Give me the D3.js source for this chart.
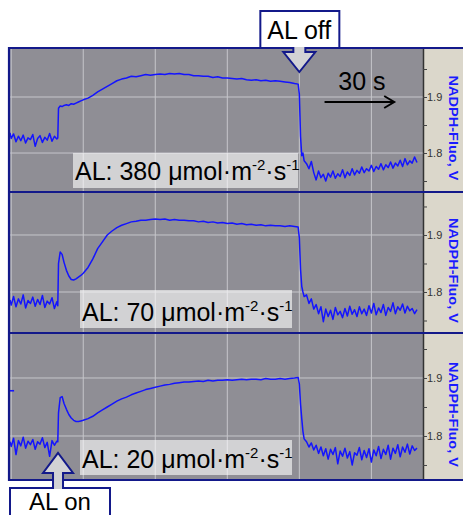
<!DOCTYPE html>
<html><head><meta charset="utf-8">
<script src="https://cdn.jsdelivr.net/npm/d3@7"></script>
<style>body{margin:0;background:#fff}svg{display:block}</style>
</head><body><svg id="c" width="463" height="515"></svg>
<script>
// ---- data ----
const times = [-0.5,0,1,2,3,4,5,6,7,8,9,10,11,12,13,14,15,16,17,18,19,
  19.4,19.7,20.4,21.2,
  22,23,24,25,26,27,28,29,30,
  32,34,36,38,40,42,44,46,48,50,52,54,56,58,60,62,64,66,68,70,72,74,76,78,80,82,84,86,88,90,92,94,96,98,100,102,104,106,108,110,112,114,116,118,
  119.5,120,120.5,121,121.5,122,
  123,124,125,126,127,128,129,130,131,132,133,134,135,136,137,138,139,140,141,142,143,144,145,146,147,148,149,150,
  151,152,153,154,155,156,157,158,159,160,161,162,163,164,165,166,167,168,169];

const trace380 = [1.836,1.826,1.834,1.820,1.830,1.822,1.832,1.818,1.827,1.824,1.833,1.812,1.826,1.831,1.819,1.828,1.823,1.835,1.821,1.830,1.825,
  1.827,1.880,1.884,1.883,
  1.885,1.886,1.885,1.888,1.887,1.889,1.891,1.893,1.895,
  1.898,1.903,1.909,1.914,1.919,1.924,1.929,1.932,1.934,1.937,
  1.936,1.938,1.940,1.939,1.940,1.941,1.940,1.942,1.941,1.942,
  1.940,1.940,1.938,1.938,1.937,1.937,1.935,1.936,1.934,1.934,
  1.933,1.932,1.933,1.931,1.930,1.931,1.929,1.930,1.928,1.929,
  1.928,1.927,1.926,1.924,
  1.923,1.905,1.830,1.795,1.800,1.786,
  1.781,1.772,1.785,1.765,1.752,1.768,1.756,1.762,1.750,1.764,
  1.757,1.768,1.755,1.763,1.758,1.770,1.756,1.766,1.760,1.772,
  1.761,1.769,1.764,1.775,1.765,1.772,1.768,1.778,1.767,1.776,
  1.771,1.781,1.770,1.779,1.774,1.784,1.773,1.782,1.777,1.787,
  1.776,1.790,1.779,1.786,1.782,1.793,1.783];

const trace70 = [1.786,1.777,1.792,1.774,1.788,1.779,1.795,1.772,1.785,1.780,1.791,1.775,1.787,1.778,1.794,1.773,1.784,1.779,1.790,1.771,1.783,
  1.776,1.850,1.870,1.866,
  1.852,1.838,1.828,1.822,1.821,1.823,1.826,1.829,1.833,
  1.843,1.858,1.876,1.888,1.900,1.907,1.913,1.917,1.920,1.923,
  1.924,1.926,1.926,1.927,1.928,1.927,1.928,1.926,1.927,1.926,
  1.926,1.925,1.925,1.923,1.924,1.922,1.923,1.921,1.922,1.920,
  1.921,1.919,1.920,1.918,1.919,1.917,1.918,1.916,1.917,1.916,
  1.916,1.915,1.916,1.915,
  1.914,1.895,1.840,1.810,1.800,1.792,
  1.795,1.780,1.788,1.770,1.778,1.762,1.774,1.748,1.770,1.757,
  1.768,1.752,1.773,1.760,1.766,1.755,1.771,1.758,1.775,1.761,
  1.769,1.757,1.774,1.762,1.770,1.759,1.776,1.763,1.780,1.760,
  1.772,1.764,1.778,1.759,1.773,1.766,1.781,1.762,1.774,1.768,
  1.779,1.763,1.775,1.767,1.771,1.762,1.769];

const trace20 = [1.790,1.782,1.796,1.768,1.792,1.783,1.798,1.779,1.791,1.785,1.794,1.777,1.790,1.786,1.797,1.780,1.789,1.765,1.792,1.784,1.791,
  1.790,1.840,1.866,1.868,
  1.856,1.846,1.837,1.831,1.827,1.825,1.825,1.826,1.827,
  1.830,1.834,1.840,1.845,1.850,1.855,1.860,1.864,1.867,1.871,
  1.874,1.877,1.880,1.882,1.884,1.886,1.888,1.889,1.891,1.892,
  1.893,1.893,1.894,1.895,1.894,1.896,1.895,1.896,1.896,1.897,
  1.896,1.897,1.898,1.897,1.898,1.898,1.897,1.899,1.898,1.898,
  1.899,1.898,1.899,1.900,
  1.901,1.890,1.855,1.830,1.808,1.795,
  1.790,1.781,1.788,1.776,1.784,1.770,1.781,1.766,1.778,1.760,
  1.777,1.768,1.780,1.752,1.774,1.765,1.779,1.762,1.773,1.750,
  1.771,1.767,1.780,1.759,1.775,1.763,1.778,1.755,1.776,1.766,
  1.782,1.761,1.777,1.768,1.784,1.760,1.779,1.770,1.785,1.764,
  1.781,1.772,1.786,1.769,1.783,1.775,1.779];

// short separate segment at the left edge of the bottom panel
const leadIn20 = [[-0.5, 1.878], [1.2, 1.878]];

const intensities = ["380", "70", "20"];
const majorTicks = [1.8, 1.9];
const minorTicks = [1.75, 1.85, 1.95];
const timeGrid = [0, 30, 60, 90, 120, 150];
const yLabel = "NADPH-Fluo, V";

// ---- layout ----
const W = 463, plotL = 10, plotR = 423;
const navy = "#13198a";
const FONT = "'Liberation Sans', Arial, sans-serif";
const svg = d3.select("#c");
const x = d3.scaleLinear().domain([-0.5, 171.5]).range([plotL, plotR]);

const panels = [
  {top: 48, bottom: 192, domain: [1.7304, 1.9875], values: trace380, box: [73, 153, 225, 35], tx: 75, ty: 180},
  {top: 192, bottom: 333, domain: [1.7281, 1.9754], values: trace70, box: [80, 290, 212, 38], tx: 82, ty: 321},
  {top: 333, bottom: 480, domain: [1.7241, 1.9776], values: trace20, box: [80, 440, 212, 35], tx: 82, ty: 468}
];

const line = d3.line().x(d => x(d[0])).y(d => d[1]);

panels.forEach((p, i) => {
  const y = d3.scaleLinear().domain(p.domain).range([p.bottom, p.top]);
  const g = svg.append("g");
  g.append("rect").attr("x", plotL).attr("y", p.top).attr("width", plotR - plotL).attr("height", p.bottom - p.top).attr("fill", "#8f8e95");
  g.append("rect").attr("x", plotR).attr("y", p.top).attr("width", W - plotR).attr("height", p.bottom - p.top).attr("fill", "#dbd7cb");
  // grid
  g.selectAll(".vg").data(timeGrid).join("line")
    .attr("x1", d => x(d)).attr("x2", d => x(d)).attr("y1", p.top).attr("y2", p.bottom)
    .attr("stroke", "#c6c6cb").attr("stroke-width", 1);
  g.selectAll(".hg").data(majorTicks).join("line")
    .attr("x1", plotL).attr("x2", plotR).attr("y1", d => y(d)).attr("y2", d => y(d))
    .attr("stroke", "#c6c6cb").attr("stroke-width", 1);
  // axis
  const ax = d3.axisRight(y).tickValues(majorTicks.concat(minorTicks)).tickSize(4).tickSizeOuter(0).tickPadding(0)
    .tickFormat(d => majorTicks.includes(d) ? d3.format(".1f")(d) : "");
  const ag = g.append("g").attr("transform", `translate(${plotR},0)`).call(ax);
  ag.select(".domain").attr("stroke", "#333").attr("stroke-width", 1.5);
  ag.selectAll(".tick line").attr("stroke", "#444");
  ag.selectAll(".tick text").attr("font-family", FONT).attr("font-size", 11).attr("fill", "#333");
  // y label
  const lx = 453.5, ly = (p.top + p.bottom) / 2 + 8;
  g.append("text").attr("transform", `translate(${lx},${ly}) rotate(90)`)
    .attr("text-anchor", "middle").attr("dominant-baseline", "central")
    .attr("font-family", FONT).attr("font-weight", "bold").attr("font-size", 13)
    .attr("fill", "#1a1aff").attr("textLength", 105).attr("lengthAdjust", "spacingAndGlyphs").text(yLabel);
  // clip + trace
  const cid = "clip" + i;
  svg.append("clipPath").attr("id", cid).append("rect")
    .attr("x", plotL).attr("y", p.top).attr("width", plotR - plotL).attr("height", p.bottom - p.top);
  const pts = times.map((t, k) => [t, y(p.values[k])]);
  g.append("path").attr("d", line(pts)).attr("clip-path", `url(#${cid})`)
    .attr("fill", "none").attr("stroke", "#1414ff").attr("stroke-width", 1.5).attr("stroke-linejoin", "round");
  if (i === 2) {
    g.append("path").attr("d", line(leadIn20.map(d => [d[0], y(d[1])])))
      .attr("fill", "none").attr("stroke", "#1414ff").attr("stroke-width", 1.6);
  }
  // label box
  g.append("rect").attr("x", p.box[0]).attr("y", p.box[1]).attr("width", p.box[2]).attr("height", p.box[3])
    .attr("fill", "#ffffff").attr("fill-opacity", 0.6);
  const t = g.append("text").attr("x", p.tx).attr("y", p.ty).attr("font-family", FONT).attr("font-size", 25).attr("fill", "#000");
  t.append("tspan").text(`AL: ${intensities[i]} μmol·m`);
  t.append("tspan").attr("font-size", 15).attr("dy", -10).text("-2");
  t.append("tspan").attr("dy", 10).text("·s");
  t.append("tspan").attr("font-size", 15).attr("dy", -10).text("-1");
});

// borders
[48, 192, 333, 480].forEach(yy => {
  svg.append("line").attr("x1", 8).attr("x2", W).attr("y1", yy).attr("y2", yy).attr("stroke", navy).attr("stroke-width", 2.2);
});
svg.append("line").attr("x1", 9).attr("x2", 9).attr("y1", 47).attr("y2", 481).attr("stroke", navy).attr("stroke-width", 2.2);

// "30 s" scale arrow
svg.append("text").attr("x", 362).attr("y", 90).attr("text-anchor", "middle").attr("font-family", FONT).attr("font-size", 25).text("30 s");
const ax0 = x(130.5), ax1 = x(159.5);
svg.append("line").attr("x1", ax0).attr("x2", ax1).attr("y1", 102).attr("y2", 102).attr("stroke", "#000").attr("stroke-width", 2);
svg.append("path").attr("d", `M${ax1 - 10},96 L${ax1},102 L${ax1 - 10},108`).attr("fill", "none").attr("stroke", "#000").attr("stroke-width", 2);

// "AL off" callout
const offX = x(120);
svg.append("rect").attr("x", offX - 39).attr("y", 11).attr("width", 79).attr("height", 37)
  .attr("fill", "#fff").attr("stroke", navy).attr("stroke-width", 2);
svg.append("text").attr("x", offX).attr("y", 39).attr("text-anchor", "middle").attr("font-family", FONT).attr("font-size", 25).text("AL off");
const offPoly = [[offX - 6, 47], [offX - 6, 52], [offX - 16, 52], [offX, 72], [offX + 16, 52], [offX + 6, 52], [offX + 6, 47]];
svg.append("path").attr("d", "M" + offPoly.map(d => d.join(",")).join("L") + "Z").attr("fill", "#d2d2d4");
svg.append("path").attr("d", "M" + offPoly.map(d => d.join(",")).join("L")).attr("fill", "none").attr("stroke", navy).attr("stroke-width", 2).attr("stroke-linejoin", "miter");

// "AL on" callout
const onX = x(19.5);
svg.append("rect").attr("x", 10).attr("y", 488).attr("width", 100).attr("height", 40)
  .attr("fill", "#fff").attr("stroke", navy).attr("stroke-width", 2);
svg.append("text").attr("x", 60).attr("y", 510).attr("text-anchor", "middle").attr("font-family", FONT).attr("font-size", 24).text("AL on");
const onPoly = [[onX - 5, 489], [onX - 5, 473], [onX - 15, 473], [onX, 453], [onX + 15, 473], [onX + 5, 473], [onX + 5, 489]];
svg.append("path").attr("d", "M" + onPoly.map(d => d.join(",")).join("L") + "Z").attr("fill", "#d2d2d4");
svg.append("path").attr("d", "M" + onPoly.map(d => d.join(",")).join("L")).attr("fill", "none").attr("stroke", navy).attr("stroke-width", 2);
</script></body></html>
